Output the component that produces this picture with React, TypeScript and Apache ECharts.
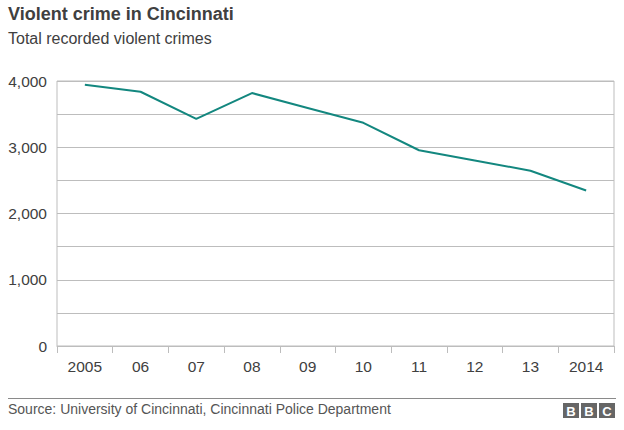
import React, { useEffect, useRef } from "react";
import * as echarts from "echarts";

const categories = ["2005", "06", "07", "08", "09", "10", "11", "12", "13", "2014"];
const crimes = [3944, 3838, 3429, 3818, 3593, 3369, 2955, 2800, 2646, 2348];
const titleText = "Violent crime in Cincinnati";
const subtitleText = "Total recorded violent crimes";
const sourceText = "Source: University of Cincinnati, Cincinnati Police Department";

export default function App() {
  const ref = useRef<HTMLDivElement>(null);
  useEffect(() => {
    if (!ref.current) return;
    const chart = echarts.init(ref.current, undefined, { renderer: "svg" });
    const font = "Liberation Sans, Arial, Helvetica, sans-serif";
    const boxW = 16;
    const boxGap = 2;
    const logoX = 563;
    const logoY = 403;
    const letters = ["B", "B", "C"];
    const logo: any[] = [];
    letters.forEach((l, i) => {
      logo.push({
        type: "rect",
        shape: { x: logoX + i * (boxW + boxGap), y: logoY, width: boxW, height: 15 },
        style: { fill: "#666666" },
      });
      logo.push({
        type: "text",
        x: logoX + i * (boxW + boxGap) + boxW / 2,
        y: logoY + 8,
        style: {
          text: l,
          fill: "#ffffff",
          font: `bold 13px ${font}`,
          textAlign: "center",
          textVerticalAlign: "middle",
        },
      });
    });
    chart.setOption({
      animation: false,
      backgroundColor: "#ffffff",
      textStyle: { fontFamily: font },
      grid: {
        left: 57,
        right: 10,
        top: 81,
        bottom: 84,
        show: true,
        borderColor: "#bdbdbd",
        borderWidth: 1,
      },
      xAxis: {
        type: "category",
        data: categories,
        boundaryGap: true,
        axisLine: { show: true, lineStyle: { color: "#bdbdbd", width: 1 } },
        axisTick: { show: true, length: 7, lineStyle: { color: "#bdbdbd" } },
        axisLabel: { color: "#404040", fontSize: 15.5, margin: 12, fontFamily: font },
      },
      yAxis: {
        type: "value",
        min: 0,
        max: 4000,
        interval: 500,
        axisLine: { show: false },
        axisTick: { show: false },
        splitLine: { show: true, lineStyle: { color: "#bdbdbd", width: 1 } },
        axisLabel: {
          color: "#404040",
          fontSize: 15.5,
          margin: 10,
          fontFamily: font,
          formatter: (v: number) => (v % 1000 === 0 ? v.toLocaleString("en-US") : ""),
        },
      },
      series: [
        {
          type: "line",
          data: crimes,
          symbol: "none",
          lineStyle: { color: "#13877f", width: 2 },
        },
      ],
      graphic: [
        {
          type: "text",
          left: 8,
          top: 5,
          style: { text: titleText, fill: "#404040", font: `bold 18px ${font}` },
        },
        {
          type: "text",
          left: 8,
          top: 30,
          style: { text: subtitleText, fill: "#404040", font: `16px ${font}` },
        },
        {
          type: "line",
          shape: { x1: 8, y1: 398.5, x2: 616, y2: 398.5 },
          style: { stroke: "#8a8a8a", lineWidth: 1 },
        },
        {
          type: "text",
          left: 8,
          top: 402,
          style: { text: sourceText, fill: "#555555", font: `14px ${font}` },
        },
        ...logo,
      ],
    });
    return () => chart.dispose();
  }, []);
  return <div ref={ref} style={{ width: 624, height: 430, position: "absolute", left: 0, top: 0 }} />;
}
